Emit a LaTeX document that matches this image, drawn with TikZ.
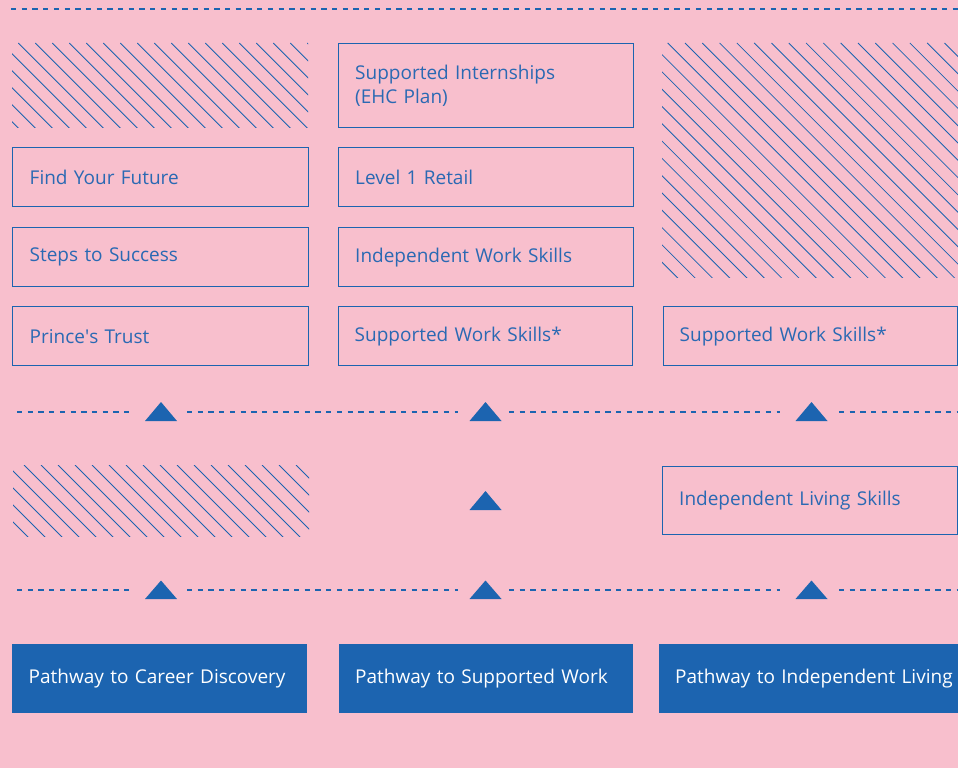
\documentclass[tikz,border=0pt]{standalone}
\usepackage{fontspec}
\setmainfont{Open Sans}
\definecolor{bg}{HTML}{F8BFCD}
\definecolor{bl}{HTML}{1C64B0}
\definecolor{tx}{HTML}{2A69B3}
\begin{document}
\begin{tikzpicture}[x=1pt,y=-1pt,
  box/.style={draw=bl, line width=1.4pt, anchor=north west, inner xsep=16pt, inner ysep=0pt,
    text=tx, align=left, text width=262pt, font=\fontsize{19}{24}\selectfont},
  pbox/.style={fill=bl, anchor=north west, inner xsep=16pt, inner ysep=0pt,
    text=white, align=left, text width=262pt, font=\fontsize{19}{24}\selectfont},
  dl/.style={draw=bl, line width=1.1pt, dash pattern=on 5.3pt off 5.4pt},
  hatch/.style={draw=bl, line width=0.8pt},
  tri/.style={fill=bl}]
\fill[bg] (0,0) rectangle (958,768);
\useasboundingbox (0,0) rectangle (958,768);

% top dashed line
\draw[dl] (11,9) -- (958,9);

% hatched areas
\begin{scope}
  \clip (12,43) rectangle (308,127);
  \foreach \k in {-6,...,18} {\draw[hatch] ({18.3+17*\k},43) -- ({18.3+17*\k+120},163);}
\end{scope}
\begin{scope}
  \clip (662,43) rectangle (958,277);
  \foreach \k in {-15,...,18} {\draw[hatch] ({667.7+17.3*\k},43) -- ({667.7+17.3*\k+260},303);}
\end{scope}
\begin{scope}
  \clip (13,465) rectangle (309,536);
  \foreach \k in {-6,...,18} {\draw[hatch] ({24+17*\k},465) -- ({24+17*\k+100},565);}
\end{scope}

% left column
\node[box, minimum width=296pt, minimum height=59pt] (fyf) at (12,147) {Find Your Future};
\node[box, minimum width=296pt, minimum height=59pt] (sts) at (12,227) {Steps to Success};
\node[box, minimum width=296pt, minimum height=59pt] (pt) at (12,306) {Prince\textquotesingle s Trust};

% middle column
\node[box, minimum width=295pt, minimum height=84pt] (si) at (338,43) {Supported Internships\\(EHC Plan)};
\node[box, minimum width=295pt, minimum height=59pt] (l1r) at (338,147) {Level 1 Retail};
\node[box, minimum width=295pt, minimum height=59pt] (iws) at (338,227) {Independent Work Skills};
\node[box, minimum width=294pt, minimum height=59pt] (sws) at (338,306) {Supported Work Skills*};

% right column
\node[box, minimum width=294pt, minimum height=59pt] (sws2) at (663,306) {Supported Work Skills*};
\node[box, minimum width=295pt, minimum height=68pt] (ils) at (662,466) {Independent Living Skills};

% dashed rows
\draw[dl] (17,412) -- (129,412);
\draw[dl] (187,412) -- (458,412);
\draw[dl] (509,412) -- (780,412);
\draw[dl] (839,412) -- (958,412);
\draw[dl] (17,590) -- (129,590);
\draw[dl] (187,590) -- (458,590);
\draw[dl] (509,590) -- (780,590);
\draw[dl] (839,590) -- (958,590);

% triangles
\foreach \cx in {161,485.5,811.5} {
  \fill[tri] (\cx-16,421) -- (\cx+16,421) -- (\cx,402) -- cycle;
  \fill[tri] (\cx-16,599) -- (\cx+16,599) -- (\cx,580.5) -- cycle;
}
\fill[tri] (469.5,510) -- (501.5,510) -- (485.5,491) -- cycle;

% pathway boxes
\node[pbox, minimum width=295pt, minimum height=69pt] (pcd) at (12,644) {Pathway to Career Discovery};
\node[pbox, minimum width=294pt, minimum height=69pt] (psw) at (339,644) {Pathway to Supported Work};
\node[pbox, text width=290pt, minimum width=299pt, minimum height=69pt] (pil) at (659,644) {Pathway to Independent Living};
\end{tikzpicture}
\end{document}
